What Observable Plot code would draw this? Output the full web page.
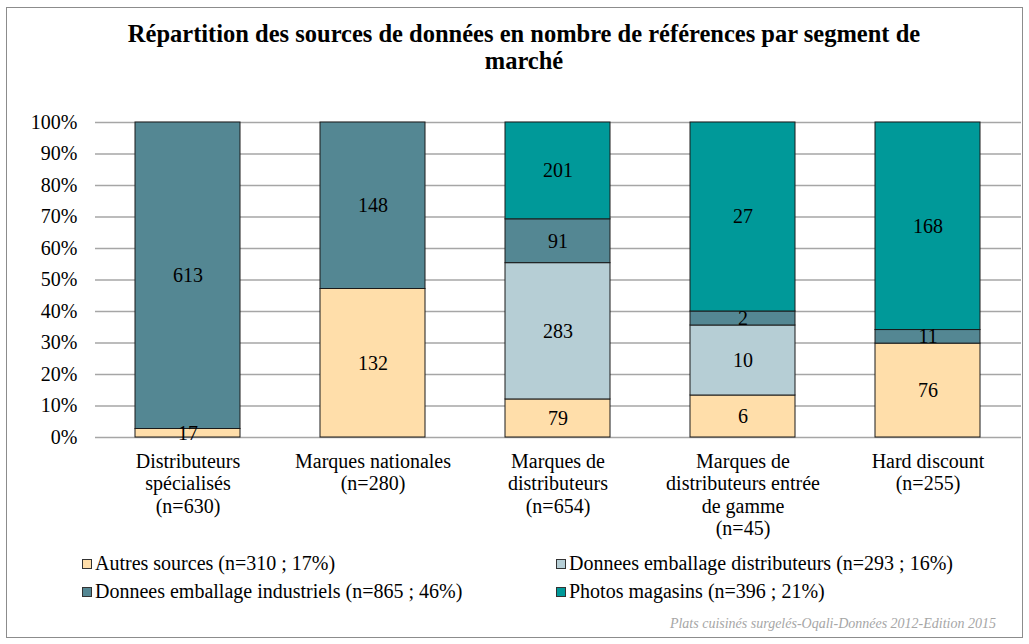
<!DOCTYPE html>
<html>
<head>
<meta charset="utf-8">
<script src="https://cdn.jsdelivr.net/npm/d3@7"></script>
<script src="https://cdn.jsdelivr.net/npm/@observablehq/plot@0.6"></script>
<style>
  html, body { margin: 0; padding: 0; background: #fff; }
  body { width: 1029px; height: 644px; position: relative; overflow: hidden; font-family: "Liberation Serif", "DejaVu Serif", serif; }
  #frame { position: absolute; left: 6px; top: 7px; width: 1017px; height: 631px; border: 1px solid #8c8c8c; box-sizing: border-box; }
  #title { position: absolute; left: 0; width: 1048px; top: 20px; text-align: center; font-weight: bold; font-size: 24.5px; line-height: 27px; color: #000; }
  #chart { position: absolute; left: 0; top: 90px; }
  #legend { position: absolute; left: 0; top: 552px; width: 1029px; height: 60px; font-size: 20px; color: #000; }
  .li { position: absolute; display: flex; align-items: center; white-space: nowrap; }
  .sw { width: 10px; height: 10px; border: 1px solid #333; margin-right: 3px; box-sizing: border-box; }
  #caption { position: absolute; right: 33px; top: 616px; font-size: 14px; font-style: italic; color: #a6a6a6; }
</style>
</head>
<body>
<div id="frame"></div>
<div id="title">Répartition des sources de données en nombre de références par segment de<br>marché</div>
<div id="chart"></div>
<div id="legend"></div>
<div id="caption">Plats cuisinés surgelés-Oqali-Données 2012-Edition 2015</div>
<script>
const categories = [
  "Distributeurs spécialisés",
  "Marques nationales",
  "Marques de distributeurs",
  "Marques de distributeurs entrée de gamme",
  "Hard discount"
];
const categoryLabels = [
  "Distributeurs\nspécialisés\n(n=630)",
  "Marques nationales\n(n=280)",
  "Marques de\ndistributeurs\n(n=654)",
  "Marques de\ndistributeurs entrée\nde gamme\n(n=45)",
  "Hard discount\n(n=255)"
];
const series = [
  "Autres sources",
  "Donnees emballage distributeurs",
  "Donnees emballage industriels",
  "Photos magasins"
];
const seriesLegend = [
  "Autres sources (n=310 ; 17%)",
  "Donnees emballage distributeurs (n=293 ; 16%)",
  "Donnees emballage industriels (n=865 ; 46%)",
  "Photos magasins (n=396 ; 21%)"
];
const colors = ["#FFDEAA", "#B6CED5", "#548793", "#009999"];

const autres       = [17, 132, 79, 6, 76];
const distributeurs = [0, 0, 283, 10, 0];
const industriels  = [613, 148, 91, 2, 11];
const photos       = [0, 0, 201, 27, 168];

const yTicks = [0, 0.1, 0.2, 0.3, 0.4, 0.5, 0.6, 0.7, 0.8, 0.9, 1];

const valuesBySeries = [autres, distributeurs, industriels, photos];
const data = [];
categories.forEach((c, i) => {
  series.forEach((s, j) => {
    const v = valuesBySeries[j][i];
    if (v > 0) data.push({category: c, series: s, value: v});
  });
});

const labelOf = new Map(categories.map((c, i) => [c, categoryLabels[i]]));

const chart = Plot.plot({
  width: 1029,
  height: 460,
  marginTop: 32,
  marginBottom: 113,
  marginLeft: 95,
  marginRight: 8,
  style: {fontFamily: "'Liberation Serif', 'DejaVu Serif', serif", fontSize: "20px", color: "#000", background: "transparent"},
  x: {domain: categories, paddingInner: 0.43, paddingOuter: 0.215, label: null},
  y: {domain: [0, 1], label: null},
  color: {domain: series, range: colors},
  marks: [
    Plot.ruleY(yTicks, {stroke: "#a6a6a6", strokeWidth: 1.3}),
    Plot.barY(data, {
      x: "category", y: "value", z: "series", fill: "series",
      offset: "normalize", order: series,
      stroke: "#1a1a1a", strokeWidth: 1
    }),
    Plot.text(data, Plot.stackY({
      x: "category", y: "value", z: "series",
      offset: "normalize", order: series,
      text: d => String(d.value), fill: "#000", fontSize: 20
    })),
    Plot.axisY(yTicks, {tickSize: 0, tickPadding: 18, tickFormat: d => Math.round(d * 100) + "%", fontSize: 20, label: null}),
    Plot.axisX({tickSize: 0, tickPadding: 14, tickFormat: d => labelOf.get(d), lineHeight: 1.13, fontSize: 20, label: null, textAnchor: "middle"})
  ]
});
document.getElementById("chart").appendChild(chart);

const legend = document.getElementById("legend");
const pos = [[82, 0], [556, 0], [82, 28], [556, 28]];
series.forEach((s, i) => {
  const item = document.createElement("div");
  item.className = "li";
  item.style.left = pos[i][0] + "px";
  item.style.top = pos[i][1] + "px";
  const sw = document.createElement("div");
  sw.className = "sw";
  sw.style.background = colors[i];
  const t = document.createElement("span");
  t.textContent = seriesLegend[i];
  item.appendChild(sw);
  item.appendChild(t);
  legend.appendChild(item);
});
</script>
</body>
</html>
